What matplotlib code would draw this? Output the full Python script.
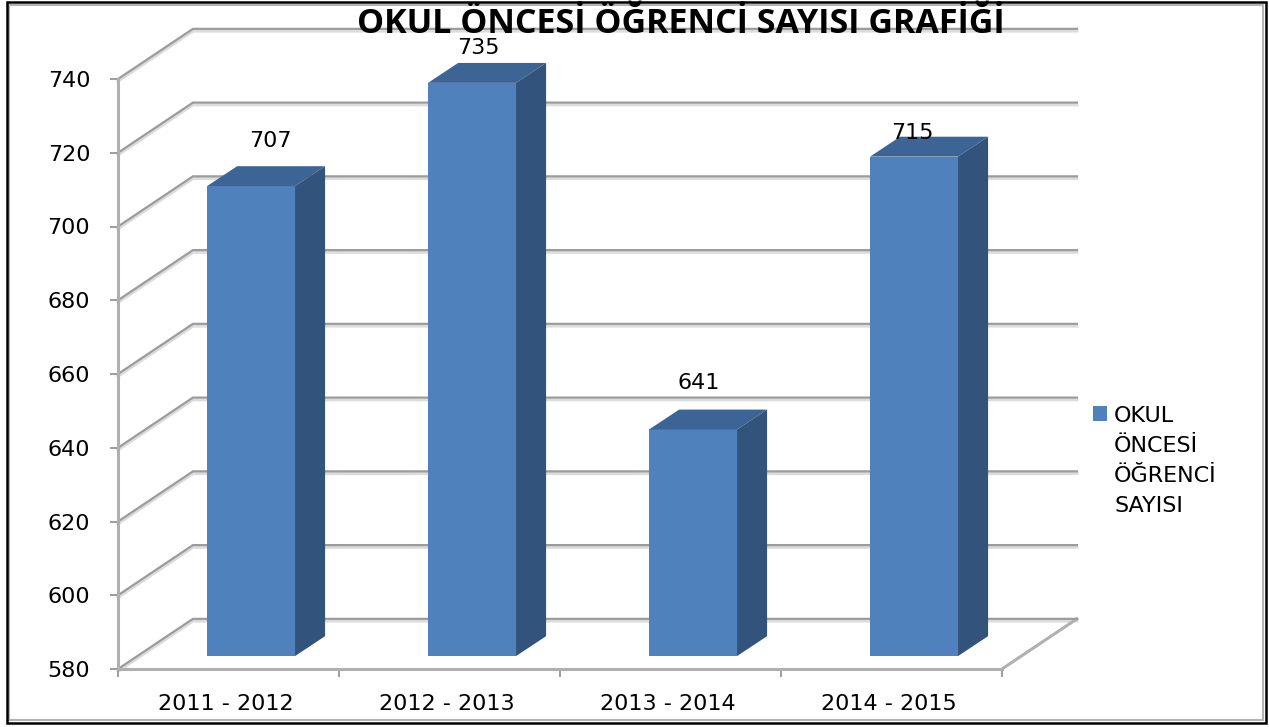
import matplotlib
matplotlib.use('agg')
import numpy as np
import matplotlib.pyplot as plt
from matplotlib.patches import Rectangle

plt.rcParams['font.family'] = ['DejaVu Sans']

# data
categories = ['2011 - 2012', '2012 - 2013', '2013 - 2014', '2014 - 2015']
values = [707, 735, 641, 715]
y_ticks = [580, 600, 620, 640, 660, 680, 700, 720, 740]
series_name = 'OKUL\nÖNCESİ\nÖĞRENCİ\nSAYISI'
title = 'OKUL ÖNCESİ ÖĞRENCİ SAYISI GRAFİĞİ'

W, H = 1269, 727
fig = plt.figure(figsize=(W / 100, H / 100), dpi=100)
fig.patch.set_facecolor('white')

# axes box: x 118..1002 px, y 669..79 px
ax = fig.add_axes([118 / W, 1 - 669 / H, (1002 - 118) / W, (669 - 79) / H])
ax.set_xlim(0, 4)
ax.set_ylim(580, 740)
ax.patch.set_alpha(0)

# 3d look, offsets in data units
wall_dx, wall_dy = 0.339, 13.6
bar_dx, bar_dy = 0.102, 3.5
top_dy = 0.45
depth_dx, depth_dy = 0.136, 5.4
bar_w = 0.398

# walls and gridlines
for v in y_ticks:
    xs = [0, wall_dx, 4 + wall_dx]
    ys = [v, v + wall_dy, v + wall_dy]
    ax.plot(xs, [y - 0.6 for y in ys], color='#dcdcdc', lw=2.2, clip_on=False, zorder=1)
    ax.plot(xs, ys, color='#9c9c9c', lw=1.6, clip_on=False, zorder=1.1,
            solid_joinstyle='miter')
ax.plot([4, 4 + wall_dx], [580, 580 + wall_dy], color='#b0b0b0', lw=2.2, clip_on=False, zorder=1)

# bars
x_pos = np.arange(len(categories)) + 0.5
bars = ax.bar(x_pos + bar_dx, [v - 580 + top_dy for v in values], bottom=580 + bar_dy, width=bar_w,
              color='#4f81bd', label=series_name, zorder=3, clip_on=False)
for r in bars:
    x0 = r.get_x()
    x1 = x0 + r.get_width()
    y0 = r.get_y()
    y1 = y0 + r.get_height()
    # top face
    ax.fill([x0, x1, x1 + depth_dx, x0 + depth_dx], [y1, y1, y1 + depth_dy, y1 + depth_dy],
            color='#3c6494', lw=0, zorder=3, clip_on=False)
    # side face
    ax.fill([x1, x1 + depth_dx, x1 + depth_dx, x1], [y0, y0 + depth_dy, y1 + depth_dy, y1],
            color='#32547c', lw=0, zorder=3, clip_on=False)

# value labels
label_offsets = [(19, 45), (6, 35), (6, 46), (-2, 24)]
for r, v, off in zip(bars, values, label_offsets):
    ax.annotate(str(v), (r.get_x() + r.get_width() / 2, r.get_y() + r.get_height()),
                xytext=(off[0] * 0.72, off[1] * 0.72), textcoords='offset points',
                ha='center', va='center', fontsize=16, color='black', zorder=5,
                annotation_clip=False)

# axes
for s in ['top', 'right']:
    ax.spines[s].set_visible(False)
for s in ['left', 'bottom']:
    ax.spines[s].set_color('#b0b0b0')
    ax.spines[s].set_linewidth(2.2)
    ax.spines[s].set_zorder(2)
ax.set_yticks(y_ticks)
ax.set_xticks(x_pos - 0.012, categories)
ax.set_xticks(np.arange(5), minor=True)
ax.tick_params(axis='y', length=6, width=1.2, color='#8c8c8c', labelsize=16, pad=14)
ax.tick_params(axis='x', which='major', length=0, labelsize=16, pad=18)
ax.tick_params(axis='x', which='minor', length=6, width=1.2, color='#8c8c8c')

# legend
leg = ax.legend(loc='upper left', bbox_to_anchor=(1093 / W, 1 - 406 / H), bbox_transform=fig.transFigure,
                frameon=False, fontsize=16, handlelength=0.63, handleheight=0.63, handletextpad=0.32,
                labelspacing=0, borderpad=0, borderaxespad=0, labelcolor='black')
for t in leg.get_texts():
    t.set_linespacing(1.63)
# square next to the first line, not centred on the block
leg._legend_handle_box.get_children()[0].get_children()[0].align = 'top'

# title
fig.text(681 / W, 1 - 24 / H, title, ha='center', va='center', fontsize=24.5,
         fontfamily=['Open Sans', 'DejaVu Sans'], fontweight='bold', color='black', zorder=10)

# frame
frame_gray = Rectangle((9 / W, 1 - 720 / H), (1263 - 9) / W, (720 - 5) / H, transform=fig.transFigure,
                       fill=False, ec='#b4b4b4', lw=1.5, zorder=0)
frame_black = Rectangle((7 / W, 1 - 723 / H), (1266 - 7) / W, (723 - 2) / H, transform=fig.transFigure,
                        fill=False, ec='black', lw=1.8, zorder=20)
fig.add_artist(frame_gray)
fig.add_artist(frame_black)

plt.savefig('out.png', dpi=100)
